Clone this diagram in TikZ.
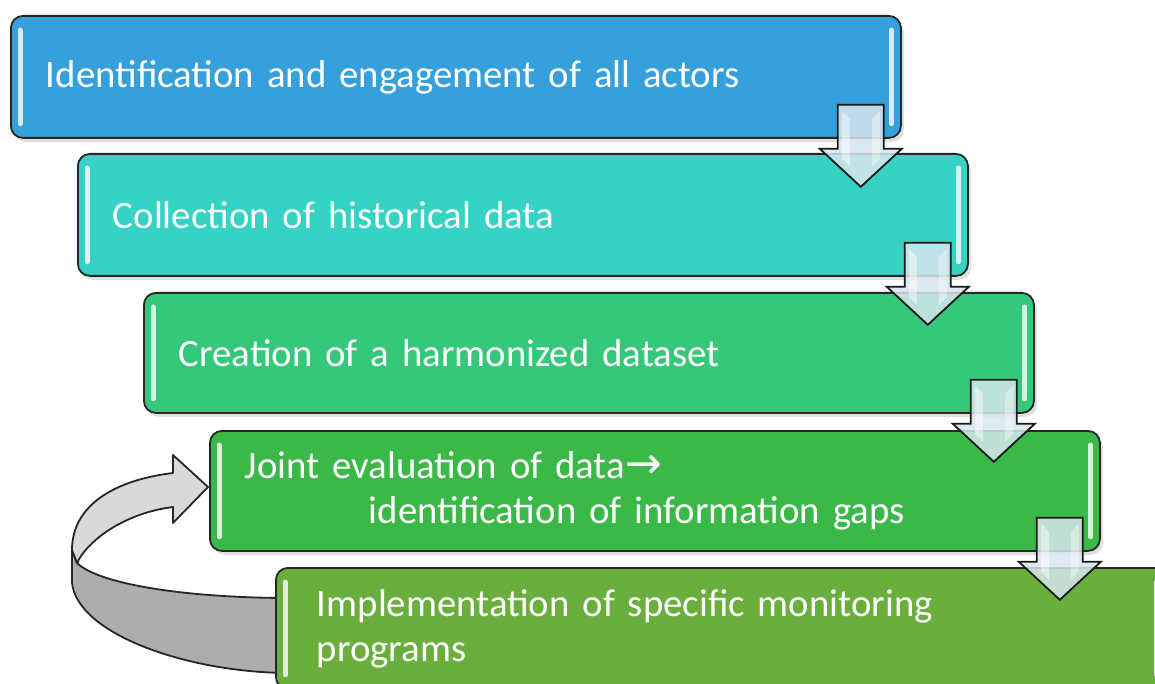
\documentclass[tikz,border=0pt]{standalone}
\usepackage{fontspec}
\setmainfont{Carlito}
\newfontfamily\symfont{DejaVu Sans}
\usetikzlibrary{positioning, shadows}

\definecolor{actorblue}{HTML}{35A0DB}
\definecolor{histteal}{HTML}{36D3C4}
\definecolor{harmgreen}{HTML}{36C87A}
\definecolor{evalgreen}{HTML}{3AB848}
\definecolor{progolive}{HTML}{6AAE3E}
\definecolor{arrowglass}{HTML}{D8E6EE}
\definecolor{loopup}{HTML}{D9D9D9}
\definecolor{loopdown}{HTML}{ADADAD}

\tikzset{
  x=1pt, y=-1pt,
  stage/.style={draw=black!85, line width=1.8pt, rounded corners=12pt,
    minimum width=890pt, minimum height=122pt, inner xsep=35pt,
    text width=820pt, align=left, anchor=north west, text=white,
    font=\fontsize{38.8}{45}\selectfont,
    drop shadow={shadow xshift=3pt, shadow yshift=-4pt, opacity=0.25}},
  gloss/.style={line width=5pt, line cap=round},
  glass/.style={draw=black!90, line width=1.8pt, fill=arrowglass,
    fill opacity=0.85, line join=miter},
  ribbon/.style={draw=black!85, line width=1.8pt, line join=round},
  stepdown/.pic={
    \draw[glass] (-64,-34) -- (-18,-34) -- (-18,10) -- (0,10) -- (-41,48)
      -- (-82,10) -- (-64,10) -- cycle;
    \fill[white, opacity=0.45] (-60,-28) -- (-52,-20) -- (-52,28) -- (-60,20) -- cycle;
    \fill[white, opacity=0.35] (-22,-28) -- (-30,-20) -- (-30,28) -- (-22,20) -- cycle;
  },
}

\begin{document}
\begin{tikzpicture}
  \useasboundingbox (0,0) rectangle (1155,684);

  % loop back from the last stage to the evaluation stage
  \draw[ribbon, fill=loopdown] (72,550) -- (72,583)
    .. controls (78,635) and (190,673) .. (290,673) -- (290,598)
    .. controls (190,598) and (100,585) .. (77,563) -- cycle;
  \draw[ribbon, fill=loopup] (72,550)
    .. controls (72,505) and (115,480) .. (173,473) -- (173,455) -- (208,487)
    -- (173,523) -- (173,507)
    .. controls (125,513) and (88,540) .. (77,563) -- cycle;

  % stages
  \node[stage, fill=actorblue] (b1) at (10,15) {Identification and engagement of all actors};
  \node[stage, fill=histteal] (b2) at (77,153) {Collection of historical data};
  \node[stage, fill=harmgreen, minimum height=120pt] (b3) at (143,292) {Creation of a harmonized dataset};
  \node[stage, fill=evalgreen, minimum height=120pt, inner xsep=34pt] (b4) at (209,430)
    {Joint evaluation of data{\symfont\fontsize{44}{45}\selectfont →}\\
     \hspace*{124pt}identification of information gaps};
  \node[stage, fill=progolive, minimum height=121pt, inner xsep=41pt, text width=808pt] (b5) at (275,567)
    {Implementation of specific monitoring\\programs};

  % glossy edges
  \foreach \b/\c in {b1/actorblue, b2/histteal, b3/harmgreen, b4/evalgreen, b5/progolive} {
    \draw[gloss, \c!20!white] ([xshift=10pt, yshift=-15pt]\b.north west) -- ([xshift=10pt, yshift=15pt]\b.south west);
    \draw[gloss, \c!20!white] ([xshift=-10pt, yshift=-15pt]\b.north east) -- ([xshift=-10pt, yshift=15pt]\b.south east);
  }

  % arrows between stages
  \pic at (b1.south east) {stepdown};
  \pic at (b2.south east) {stepdown};
  \pic at (b3.south east) {stepdown};
  \pic at (b4.south east) {stepdown};
\end{tikzpicture}
\end{document}
